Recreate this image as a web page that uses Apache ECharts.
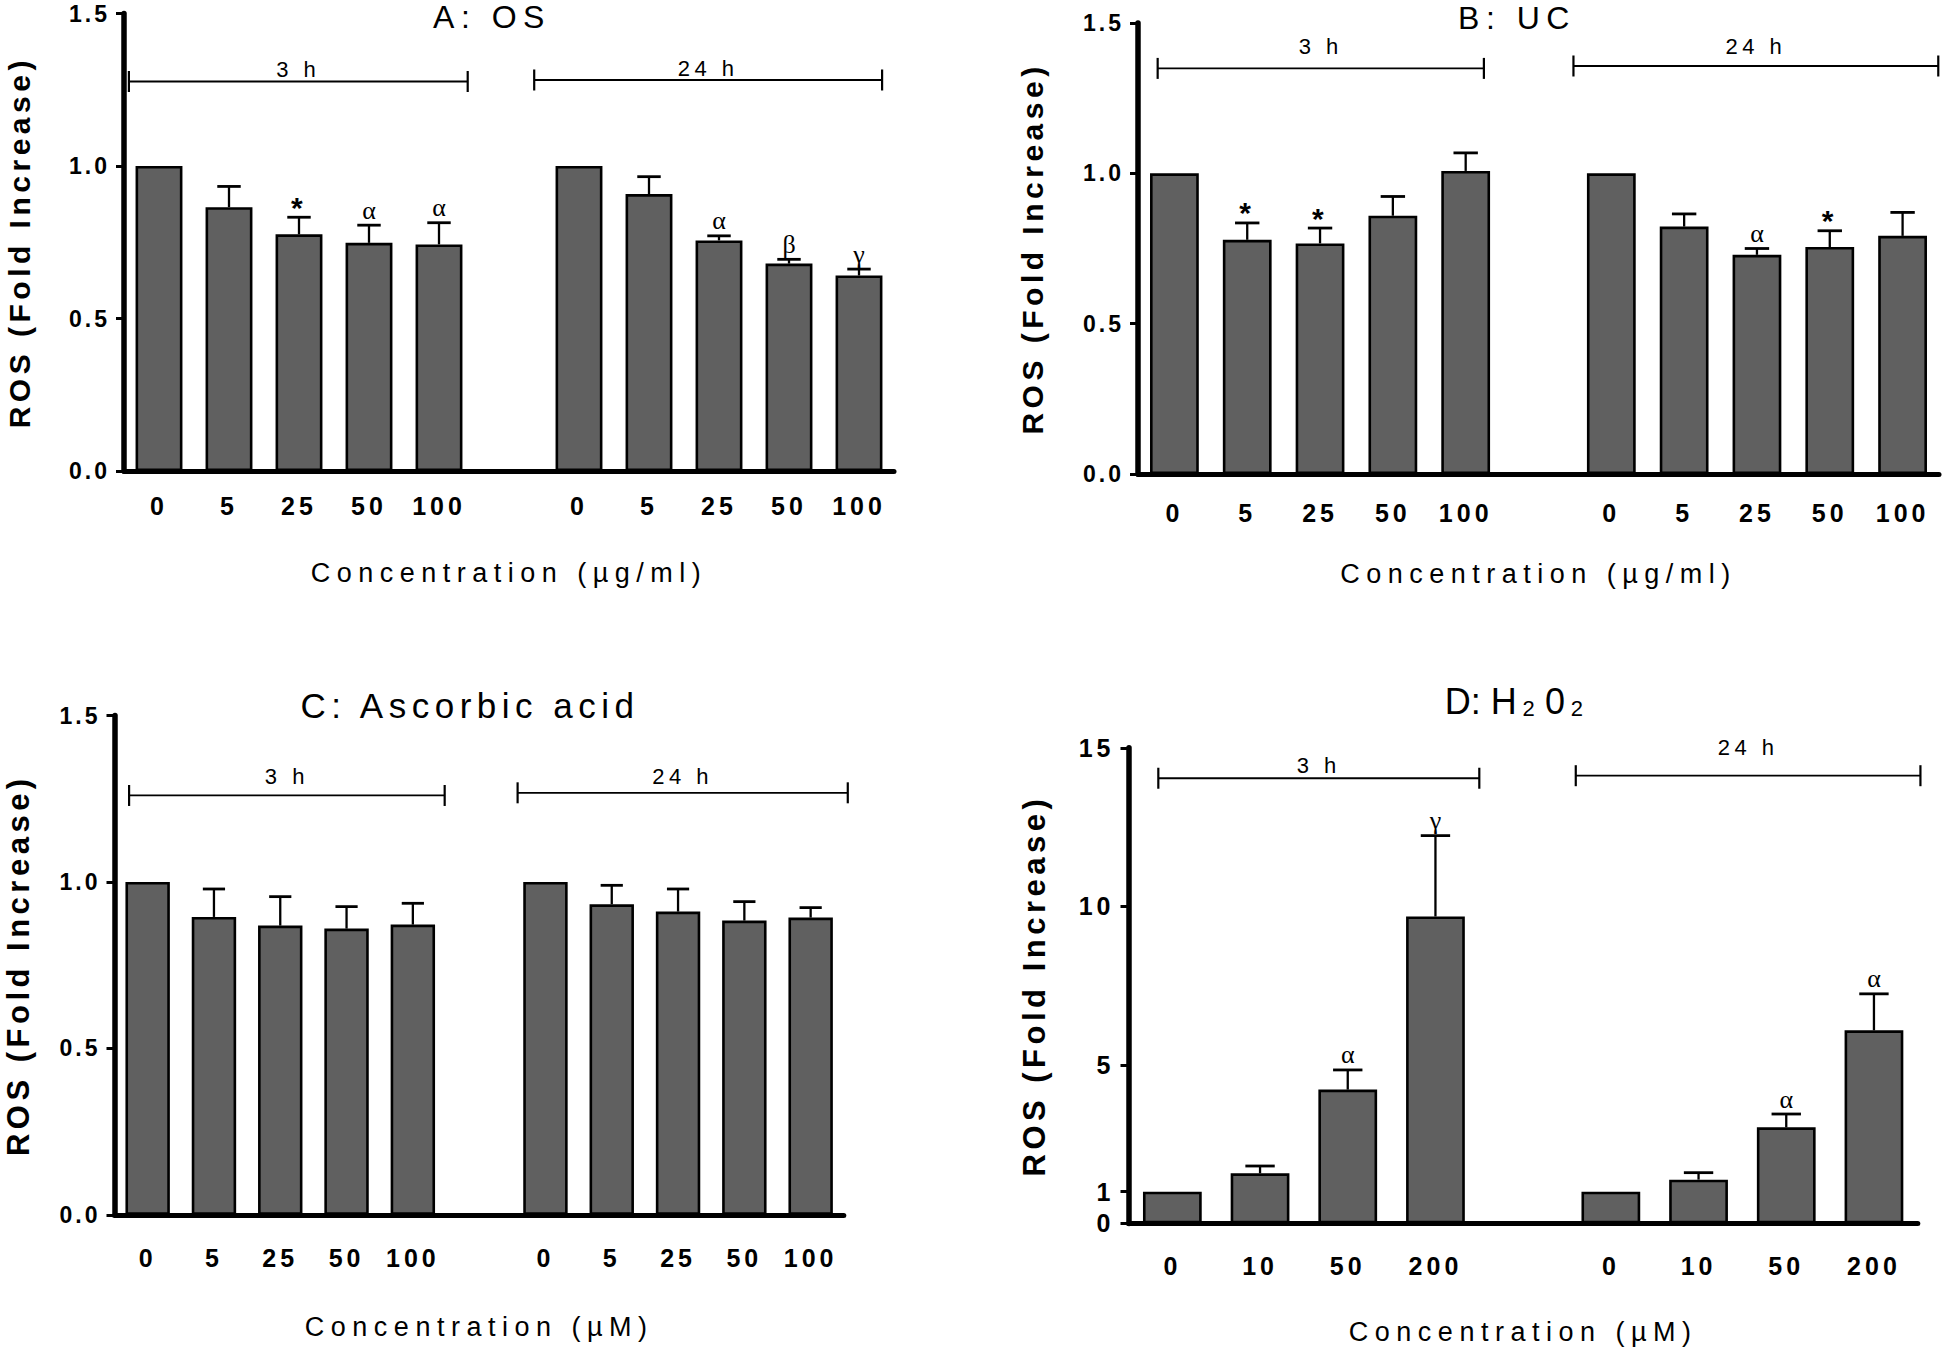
<!DOCTYPE html>
<html>
<head>
<meta charset="utf-8">
<title>ROS fold increase</title>
<script src="https://cdn.jsdelivr.net/npm/echarts@6.0.0/dist/echarts.min.js"></script>
<style>
html,body{margin:0;padding:0;background:#fff;}
#chart{width:1946px;height:1348px;}
</style>
</head>
<body>
<div id="chart"></div>
<script>
// ---------------- data ----------------
const concUgPerMl = ['0', '5', '25', '50', '100'];
const concAscorbic = ['0', '5', '25', '50', '100'];
const concH2O2 = ['0', '10', '50', '200'];
const timeLabels = ['3 h', '24 h'];

const os3hMean = [1.00, 0.865, 0.776, 0.748, 0.743];
const os3hSem = [0, 0.068, 0.056, 0.058, 0.071];
const os24hMean = [1.00, 0.908, 0.756, 0.680, 0.641];
const os24hSem = [0, 0.057, 0.015, 0.014, 0.021];
const os3hSig = ['', '', '*', 'α', 'α'];
const os24hSig = ['', '', 'α', 'β', 'γ'];

const uc3hMean = [1.00, 0.779, 0.767, 0.859, 1.008];
const uc3hSem = [0, 0.056, 0.051, 0.064, 0.060];
const uc24hMean = [1.00, 0.823, 0.729, 0.755, 0.792];
const uc24hSem = [0, 0.042, 0.021, 0.054, 0.078];
const uc3hSig = ['', '*', '*', '', ''];
const uc24hSig = ['', '', 'α', '*', ''];

const aa3hMean = [1.00, 0.895, 0.869, 0.860, 0.872];
const aa3hSem = [0, 0.084, 0.087, 0.066, 0.064];
const aa24hMean = [1.00, 0.933, 0.911, 0.884, 0.893];
const aa24hSem = [0, 0.057, 0.068, 0.057, 0.030];
const aa3hSig = ['', '', '', '', ''];
const aa24hSig = ['', '', '', '', ''];

const h2o2_3hMean = [1.00, 1.58, 4.22, 9.68];
const h2o2_3hSem = [0, 0.23, 0.62, 2.55];
const h2o2_24hMean = [1.00, 1.38, 3.03, 6.09];
const h2o2_24hSem = [0, 0.22, 0.42, 1.15];
const h2o2_3hSig = ['', '', 'α', 'γ'];
const h2o2_24hSig = ['', '', 'α', 'α'];

// time brackets: [from, to] in category units, then line level and label level in y units
const osBrackets = [[-0.43, 4.41, 1.277, 1.318], [5.36, 10.33, 1.282, 1.321]];
const ucBrackets = [[-0.23, 4.25, 1.349, 1.423], [5.48, 10.49, 1.357, 1.423]];
const aaBrackets = [[-0.28, 4.48, 1.260, 1.318], [5.58, 10.56, 1.268, 1.318]];
const h2o2Brackets = [[-0.16, 3.50, 14.04, 14.43], [4.60, 8.53, 14.12, 15.0]];

const rosTicks = [0, 0.5, 1.0, 1.5];
const h2o2Ticks = [0, 1, 5, 10, 15];

// ---------------- styling / layout ----------------
const FONT = "'Liberation Sans', Arial, Helvetica, sans-serif";
const GREEK_FONT = "'Liberation Serif', 'DejaVu Serif', serif";
const BAR_FILL = '#606060';

const panels = [
  { title: 'A: OS', titleX: 492, titleY: 1, titleSize: 32,
    cats: concUgPerMl, m3: os3hMean, e3: os3hSem, m24: os24hMean, e24: os24hSem, s3: os3hSig, s24: os24hSig,
    br: osBrackets, max: 1.5, ticks: rosTicks, dec: 1, xName: 'Concentration (µg/ml)',
    grid: { left: 124, top: 13.5, width: 770, height: 457.5 },
    yGap: 90, xGap: 88, catMargin: 22, tickSize: 23, yNameSize: 30 },
  { title: 'B: UC', titleX: 1517, titleY: 2, titleSize: 32,
    cats: concUgPerMl, m3: uc3hMean, e3: uc3hSem, m24: uc24hMean, e24: uc24hSem, s3: uc3hSig, s24: uc24hSig,
    br: ucBrackets, max: 1.5, ticks: rosTicks, dec: 1, xName: 'Concentration (µg/ml)',
    grid: { left: 1138, top: 23, width: 801, height: 451 },
    yGap: 91, xGap: 86, catMargin: 26, tickSize: 23, yNameSize: 30 },
  { title: 'C: Ascorbic acid', titleX: 470, titleY: 688, titleSize: 35,
    cats: concAscorbic, m3: aa3hMean, e3: aa3hSem, m24: aa24hMean, e24: aa24hSem, s3: aa3hSig, s24: aa24hSig,
    br: aaBrackets, max: 1.5, ticks: rosTicks, dec: 1, xName: 'Concentration (µM)',
    grid: { left: 114.5, top: 715.6, width: 729.3, height: 499.2 },
    yGap: 81, xGap: 99, catMargin: 31, tickSize: 23, yNameSize: 31 },
  { title: null, titleX: 1519, titleY: 683, titleSize: 36,
    cats: concH2O2, m3: h2o2_3hMean, e3: h2o2_3hSem, m24: h2o2_24hMean, e24: h2o2_24hSem, s3: h2o2_3hSig, s24: h2o2_24hSig,
    br: h2o2Brackets, max: 15, ticks: h2o2Ticks, dec: 0, xName: 'Concentration (µM)',
    grid: { left: 1128.5, top: 747.8, width: 789.3, height: 475.6 },
    yGap: 79, xGap: 95, catMargin: 30, tickSize: 25, yNameSize: 31 }
];

function errRender(sig) {
  return function (params, api) {
    const x = api.value(0), m = api.value(1), e = api.value(2);
    const p0 = api.coord([x, m]);
    const p1 = api.coord([x, m + e]);
    const bw = api.size([1, 0])[0] * 0.67;
    const hc = bw / 4;
    const ch = [];
    if (e > 0) {
      ch.push({ type: 'line', shape: { x1: p0[0], y1: p0[1], x2: p1[0], y2: p1[1] }, style: { stroke: '#000', lineWidth: 2.3 } });
      ch.push({ type: 'line', shape: { x1: p1[0] - hc, y1: p1[1], x2: p1[0] + hc, y2: p1[1] }, style: { stroke: '#000', lineWidth: 2.8 } });
    }
    const s = sig[params.dataIndex];
    if (s) {
      if (s === '*') {
        ch.push({ type: 'text', x: p1[0], y: p1[1] + 5, style: { text: s, align: 'center', verticalAlign: 'bottom', fontSize: 30, fontWeight: 'bold', fontFamily: FONT, fill: '#000' } });
      } else {
        ch.push({ type: 'text', x: p1[0], y: p1[1] - 2, style: { text: s, align: 'center', verticalAlign: 'bottom', fontSize: 26, fontFamily: GREEK_FONT, fill: '#000' } });
      }
    }
    return { type: 'group', children: ch };
  };
}

function bracketRender(spans) {
  return function (params, api) {
    const lv = api.value(1), ly = api.value(2);
    const o = api.coord([0, lv]);
    const bw = api.size([1, 0])[0];
    const sp = spans[params.dataIndex];
    const x1 = o[0] + sp[0] * bw, x2 = o[0] + sp[1] * bw, y = o[1];
    const ty = api.coord([0, ly])[1];
    return { type: 'group', children: [
      { type: 'line', shape: { x1: x1, y1: y, x2: x2, y2: y }, style: { stroke: '#000', lineWidth: 1.8 } },
      { type: 'line', shape: { x1: x1, y1: y - 10.5, x2: x1, y2: y + 10.5 }, style: { stroke: '#000', lineWidth: 2.2 } },
      { type: 'line', shape: { x1: x2, y1: y - 10.5, x2: x2, y2: y + 10.5 }, style: { stroke: '#000', lineWidth: 2.2 } },
      { type: 'text', x: (x1 + x2) / 2, y: ty, style: { text: timeLabels[params.dataIndex], align: 'center', verticalAlign: 'middle', fontSize: 22, fontFamily: FONT, fill: '#000' } }
    ] };
  };
}

const option = { animation: false, backgroundColor: '#ffffff', title: [], grid: [], xAxis: [], yAxis: [], series: [] };

panels.forEach(function (p, i) {
  const n = p.cats.length;
  const cats = [...p.cats, '', ...p.cats];
  const bars = [...p.m3, '-', ...p.m24];
  const err = [];
  p.m3.forEach(function (v, k) { err.push([k, v, p.e3[k]]); });
  p.m24.forEach(function (v, k) { err.push([n + 1 + k, v, p.e24[k]]); });
  const sig = [...p.s3, ...p.s24];

  if (p.title) {
    option.title.push({ text: p.title, left: p.titleX, top: p.titleY, padding: 0, textAlign: 'center', textVerticalAlign: 'top',
      textStyle: { fontSize: p.titleSize, fontWeight: 'normal', fontFamily: FONT, color: '#000' } });
  } else {
    option.title.push({ text: '{n|D: H}{s|2}{n|0}{s|2}', left: p.titleX, top: p.titleY, padding: 0, textAlign: 'center', textVerticalAlign: 'top',
      textStyle: { fontSize: 36, fontWeight: 'normal', fontFamily: FONT, color: '#000',
        rich: {
          n: { fontSize: 36, fontFamily: FONT, color: '#000', lineHeight: 36, verticalAlign: 'top', padding: [0, 8, 0, 0] },
          s: { fontSize: 22, fontFamily: FONT, color: '#000', lineHeight: 22, verticalAlign: 'bottom', padding: [28, 8, 0, 0] }
        } } });
  }

  option.grid.push(Object.assign({ containLabel: false, outerBoundsMode: 'none' }, p.grid));

  option.xAxis.push({
    type: 'category', gridIndex: i, data: cats,
    axisLine: { show: true, lineStyle: { color: '#000', width: 5 } },
    axisTick: { show: false },
    splitLine: { show: false },
    axisLabel: { interval: 0, margin: p.catMargin, fontSize: 25, fontWeight: 'bold', fontFamily: FONT, color: '#000' },
    name: p.xName, nameLocation: 'middle', nameGap: p.xGap,
    nameTextStyle: { fontSize: 27, fontFamily: FONT, color: '#000', fontWeight: 'normal' }
  });

  option.yAxis.push({
    type: 'value', gridIndex: i, min: 0, max: p.max,
    axisLine: { show: true, lineStyle: { color: '#000', width: 5.5 } },
    axisTick: { show: true, length: 8, lineStyle: { color: '#000', width: 3 }, customValues: p.ticks },
    splitLine: { show: false },
    axisLabel: { margin: 14, fontSize: p.tickSize, fontWeight: 'bold', fontFamily: FONT, color: '#000',
      customValues: p.ticks, formatter: function (v) { return Number(v).toFixed(p.dec); } },
    name: 'ROS (Fold Increase)', nameLocation: 'middle', nameGap: p.yGap, nameRotate: 90,
    nameTextStyle: { fontSize: p.yNameSize, fontWeight: 'bold', fontFamily: FONT, color: '#000' }
  });

  option.series.push({
    type: 'bar', xAxisIndex: i, yAxisIndex: i, data: bars, barWidth: '67%', silent: true,
    itemStyle: { color: BAR_FILL, borderColor: '#000', borderWidth: 2.6 }
  });
  option.series.push({
    type: 'custom', xAxisIndex: i, yAxisIndex: i, data: err, silent: true, clip: false,
    renderItem: errRender(sig), z: 3
  });
  option.series.push({
    type: 'custom', xAxisIndex: i, yAxisIndex: i, silent: true, clip: false,
    data: p.br.map(function (b) { return [0, b[2], b[3]]; }),
    renderItem: bracketRender(p.br), z: 3
  });
});

const chart = echarts.init(document.getElementById('chart'), null, { renderer: 'svg', width: 1946, height: 1348 });
chart.setOption(option);

// GraphPad-style tracking of the text, keyed by font size
const SPACING = { 32: 6.5, 35: 5.5, 27: 6.5, 30: 4.5, 31: 4.5, 23: 3, 25: 4, 22: 4.5 };
function applySpacing() {
  document.querySelectorAll('#chart svg text').forEach(function (t) {
    const fs = Math.round(parseFloat(getComputedStyle(t).fontSize));
    const s = SPACING[fs];
    if (s) t.style.letterSpacing = s + 'px';
  });
}
applySpacing();
chart.on('finished', applySpacing);
setTimeout(applySpacing, 0);
setTimeout(applySpacing, 100);
setTimeout(applySpacing, 400);
</script>
</body>
</html>
